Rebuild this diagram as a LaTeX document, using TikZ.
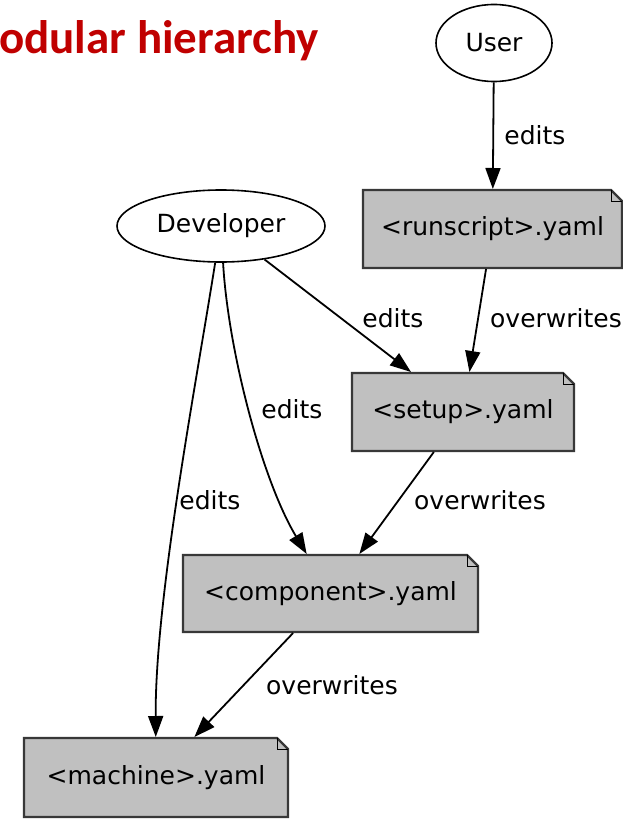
\documentclass[tikz,border=0pt]{standalone}
\usepackage{fontspec}
\setmainfont{DejaVu Sans}
\newfontfamily\titlefont{Carlito}
\usetikzlibrary{shapes.geometric,arrows.meta,calc}
\definecolor{titlered}{HTML}{C00000}
\definecolor{notegray}{HTML}{C0C0C0}
\newcommand\notenode[6]{%
  \filldraw[noteline, fill=notegray] (#2,#3) -- (#4-11,#3) -- (#4,#3+11) -- (#4,#5) -- (#2,#5) -- cycle;
  \draw[line width=1pt] (#4-11,#3) -- (#4-11,#3+11) -- (#4,#3+11);
  \node[notebox, minimum width=#4pt-#2pt, minimum height=#5pt-#3pt] (#1) at ({(#2+#4)/2},{(#3+#5)/2}) {#6};
}
\begin{document}
\begin{tikzpicture}[x=1pt,y=-1pt,
  txt/.style={font=\fontsize{25}{29}\selectfont},
  lbl/.style={txt, inner sep=0},
  actor/.style={ellipse, draw=black, line width=1.6pt, fill=white, inner sep=0, txt},
  notebox/.style={rectangle, inner sep=0, outer sep=1pt, txt},
  noteline/.style={draw=black!78, line width=2.2pt, line join=miter},
  edge/.style={line width=1.8pt, -{Triangle[length=21pt,width=15pt]}},
]
\useasboundingbox (0,0) rectangle (623,821);

\node[anchor=base west, font=\titlefont\bfseries\fontsize{47}{54}\selectfont, text=titlered, inner sep=0] (title) at (-1,54) {odular hierarchy};

\node[actor, minimum width=116pt, minimum height=77pt] (user) at (494,43) {User};
\node[actor, minimum width=208pt, minimum height=72pt] (dev) at (221,226) {Developer};

\notenode{rs}{363}{190}{622}{268}{<runscript>.yaml}
\notenode{setup}{352}{373}{574}{451}{<setup>.yaml}
\notenode{comp}{183}{555}{478}{632}{<component>.yaml}
\notenode{mach}{24}{738}{288}{817}{<machine>.yaml}

\draw[edge] (user) -- (rs);
\draw[edge] (rs) -- (setup);
\draw[edge] (dev) -- (setup);
\draw[edge] (setup) -- (comp);
\draw[edge] (comp) -- (mach);
\draw[edge] (dev) .. controls (228,350) and (262,480) .. (comp);
\draw[edge] (dev) .. controls (195,390) and (155,600) .. (mach);

\node[lbl] (l1) at (535,135) {edits};
\node[lbl] (l2) at (556,318) {overwrites};
\node[lbl] (l3) at (393,318) {edits};
\node[lbl] (l4) at (292,409) {edits};
\node[lbl] (l5) at (210,500) {edits};
\node[lbl] (l6) at (480,500) {overwrites};
\node[lbl] (l7) at (332,685) {overwrites};
\end{tikzpicture}
\end{document}
